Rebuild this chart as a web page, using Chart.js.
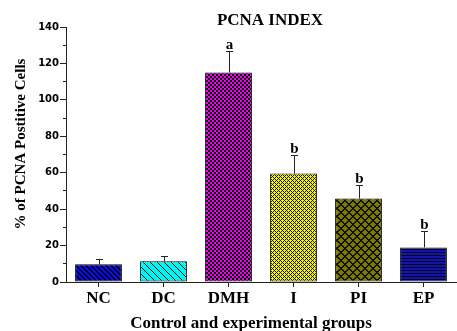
<!DOCTYPE html>
<html lang="en">
<head>
<meta charset="UTF-8">
<title>PCNA Index</title>
<script src="https://cdn.jsdelivr.net/npm/chart.js@4"></script>
<style>
  html, body { margin: 0; padding: 0; background: #fff; }
</style>
</head>
<body>
<canvas id="chart" width="457" height="331"></canvas>
<script>
// values
const groups = ['NC', 'DC', 'DMH', 'I', 'PI', 'EP'];
const means = [9.7, 11.4, 115.0, 59.6, 45.9, 19.0];
const errors = [2.9, 2.9, 11.8, 10.0, 7.3, 9.2];
const letters = ['', '', 'a', 'b', 'b', 'b'];
const yMin = 0, yMax = 140, yStep = 20, yMinorStep = 10;

const chartTitle = 'PCNA INDEX';
const yTitle = '% of PCNA Postitive Cells';
const xTitle = 'Control and experimental groups';

const serif = '"Liberation Serif", "Times New Roman", serif';
const axisColor = '#222';

// small pixel tiles used as bar fills
function tile(size, pick) {
    const c = document.createElement('canvas');
    c.width = size; c.height = size;
    const g = c.getContext('2d');
    for (let y = 0; y < size; y++) {
        for (let x = 0; x < size; x++) {
            g.fillStyle = pick(x, y);
            g.fillRect(x, y, 1, 1);
        }
    }
    return g.createPattern(c, 'repeat');
}
const mod = (a, n) => ((a % n) + n) % n;

const fills = [
    tile(5, (x, y) => mod(x - y, 5) < 2 ? '#000' : '#0a0aee'),
    tile(7, (x, y) => mod(x - y, 7) < 1 ? '#000' : '#00f5f5'),
    tile(4, (x, y) => (Math.floor(x / 2) + Math.floor(y / 2)) % 2 ? '#000' : '#f000f0'),
    tile(4, (x, y) => (mod(x + y, 4) === 0 || mod(x - y, 4) === 0) ? '#111' : '#f5f500'),
    tile(8, (x, y) => (mod(x + y, 8) < 2 || mod(x - y, 8) < 2) ? '#101000' : '#7c7c00'),
    tile(3, (x, y) => y % 3 === 0 ? '#000028' : '#1414a8')
];

const errorBars = {
    id: 'errorBars',
    afterDatasetsDraw(chart) {
        const ctx = chart.ctx;
        const y = chart.scales.y;
        const meta = chart.getDatasetMeta(0);
        ctx.save();
        ctx.strokeStyle = axisColor;
        ctx.lineWidth = 1;
        ctx.fillStyle = '#000';
        ctx.font = 'bold 15px ' + serif;
        ctx.textAlign = 'center';
        ctx.textBaseline = 'alphabetic';
        meta.data.forEach((bar, i) => {
            const x = Math.round(bar.x) + 0.5;
            const top = Math.round(y.getPixelForValue(means[i] + errors[i])) + 0.5;
            ctx.beginPath();
            ctx.moveTo(x, bar.y);
            ctx.lineTo(x, top);
            ctx.moveTo(x - 3.5, top);
            ctx.lineTo(x + 3.5, top);
            ctx.stroke();
            if (letters[i]) ctx.fillText(letters[i], x, top - 3);
        });
        ctx.restore();
    }
};

const titles = {
    id: 'titles',
    afterDraw(chart) {
        const ctx = chart.ctx;
        const a = chart.chartArea;
        ctx.save();
        ctx.fillStyle = '#000';
        ctx.textAlign = 'center';
        ctx.textBaseline = 'alphabetic';
        ctx.font = 'bold 17px ' + serif;
        ctx.fillText(chartTitle, 270, 25);
        ctx.fillText(xTitle, 251, 328);
        ctx.translate(25, 144);
        ctx.rotate(-Math.PI / 2);
        ctx.font = 'bold 15px ' + serif;
        ctx.fillText(yTitle, 0, 0);
        ctx.restore();
    }
};

new Chart('chart', {
    type: 'bar',
    data: {
        labels: groups,
        datasets: [{
            data: means,
            backgroundColor: fills,
            borderColor: '#000',
            borderWidth: 1,
            borderSkipped: false,
            categoryPercentage: 1,
            barPercentage: 0.72
        }]
    },
    options: {
        responsive: false,
        animation: false,
        layout: { padding: { top: 27, left: 0, right: 1, bottom: 0 } },
        plugins: {
            legend: { display: false },
            tooltip: { enabled: false }
        },
        scales: {
            x: {
                grid: { drawOnChartArea: false, offset: false, tickLength: 5, color: axisColor },
                border: { color: axisColor, width: 1 },
                ticks: { color: '#000', font: { family: serif, size: 17, weight: 'bold' }, padding: 1 },
                afterFit: s => { s.height = 49; }
            },
            y: {
                position: 'left',
                weight: 1,
                min: yMin,
                max: yMax,
                ticks: { stepSize: yStep, color: '#000', padding: 1,
                         font: { family: '"DejaVu Sans", Verdana, sans-serif', size: 10, weight: 'bold' } },
                grid: { drawOnChartArea: false, tickLength: 6, color: axisColor },
                border: { color: axisColor, width: 1 },
                afterFit: s => { s.width = 66; }
            },
            yMinor: {
                position: 'left',
                weight: 0,
                min: yMin,
                max: yMax,
                ticks: { stepSize: yMinorStep, display: false },
                grid: { drawOnChartArea: false, tickLength: 3, color: axisColor },
                border: { display: false },
                afterFit: s => { s.width = 0; }
            }
        }
    },
    plugins: [errorBars, titles]
});
</script>
</body>
</html>
